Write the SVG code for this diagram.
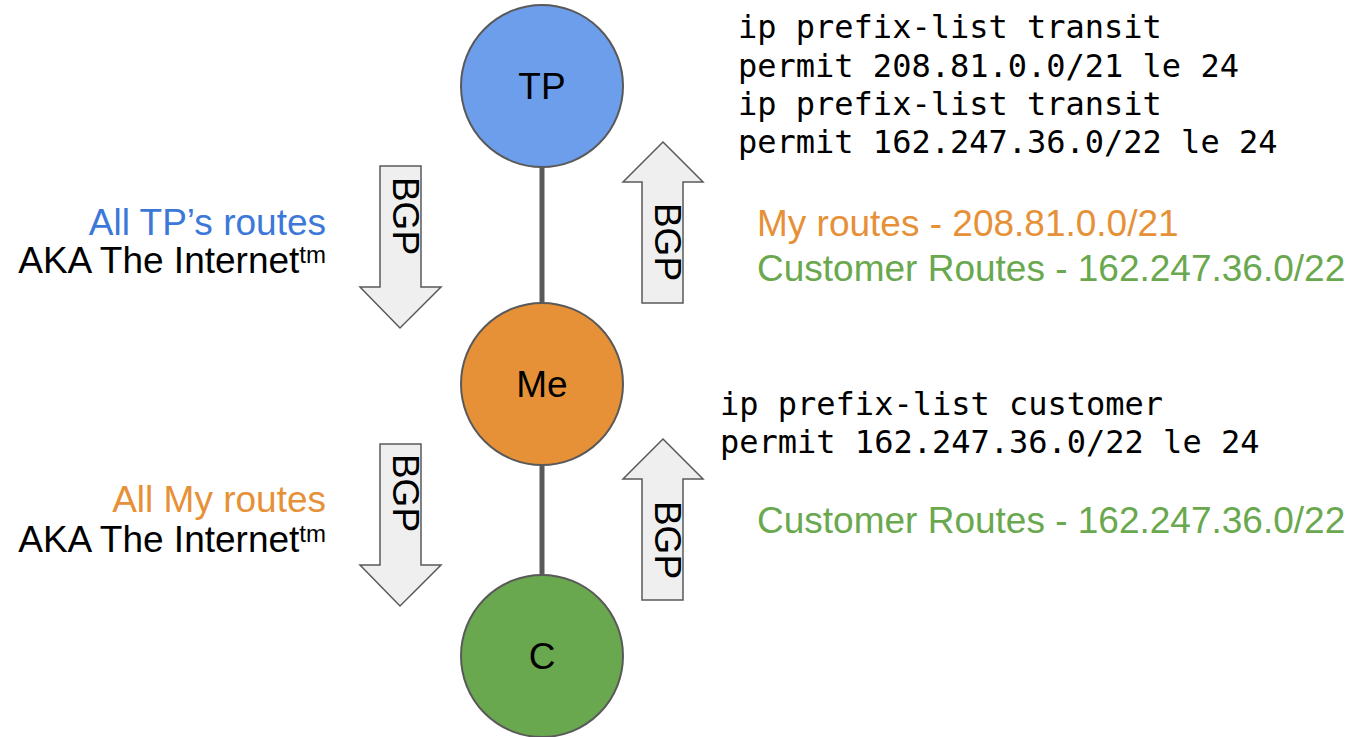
<svg xmlns="http://www.w3.org/2000/svg" width="1361" height="737" viewBox="0 0 1361 737">
<style>
.node{stroke:#595959;stroke-width:2}
.lbl{font-family:"Liberation Sans",Arial,sans-serif;font-size:37px;fill:#000}
.arrow{fill:#efefef;stroke:#595959;stroke-width:1.5;stroke-linejoin:miter}
.code{font-family:"DejaVu Sans Mono","Liberation Mono",monospace;font-size:32px;fill:#000}
.sup{font-size:24px}
.conn{stroke:#595959;stroke-width:5}
</style>
<rect width="1361" height="737" fill="#fff"/>
<g id="connectors">
<line class="conn" x1="542" y1="166" x2="542" y2="304"/>
<line class="conn" x1="542" y1="464" x2="542" y2="576"/>
</g>
<g id="node-tp">
<circle class="node" cx="542" cy="86" r="81" fill="#6d9eeb"/>
<text class="lbl" x="542" y="99" text-anchor="middle">TP</text>
</g>
<g id="node-me">
<circle class="node" cx="542" cy="384" r="81" fill="#e69138"/>
<text class="lbl" x="542" y="397" text-anchor="middle">Me</text>
</g>
<g id="node-c">
<circle class="node" cx="542" cy="656" r="81" fill="#6aa84f"/>
<text class="lbl" x="542" y="669" text-anchor="middle">C</text>
</g>
<g id="arrow-down-1">
<polygon class="arrow" points="380,166 421,166 421,287 441,287 400,328 360,287 380,287"/>
<text class="lbl" transform="translate(393,216) rotate(90)" text-anchor="middle">BGP</text>
</g>
<g id="arrow-up-1">
<polygon class="arrow" points="663,142 703,182 683,182 683,303 642,303 642,182 623,182"/>
<text class="lbl" transform="translate(655,242) rotate(90)" text-anchor="middle">BGP</text>
</g>
<g id="arrow-down-2">
<polygon class="arrow" points="380,444 421,444 421,565 441,565 400,606 360,565 380,565"/>
<text class="lbl" transform="translate(393,493) rotate(90)" text-anchor="middle">BGP</text>
</g>
<g id="arrow-up-2">
<polygon class="arrow" points="663,439 703,479 683,479 683,600 642,600 642,479 623,479"/>
<text class="lbl" transform="translate(655,540) rotate(90)" text-anchor="middle">BGP</text>
</g>
<g id="label-left-1">
<text class="lbl" x="326" y="235" text-anchor="end" style="fill:#3c78d8">All TP’s routes</text>
<text class="lbl" x="326" y="273" text-anchor="end">AKA The Internet<tspan class="sup" dy="-10">tm</tspan></text>
</g>
<g id="label-left-2">
<text class="lbl" x="326" y="512" text-anchor="end" style="fill:#e69138">All My routes</text>
<text class="lbl" x="326" y="552" text-anchor="end">AKA The Internet<tspan class="sup" dy="-10">tm</tspan></text>
</g>
<g id="code-transit">
<text class="code" x="738" y="38">ip prefix-list transit</text>
<text class="code" x="738" y="77">permit 208.81.0.0/21 le 24</text>
<text class="code" x="738" y="115">ip prefix-list transit</text>
<text class="code" x="738" y="153">permit 162.247.36.0/22 le 24</text>
</g>
<g id="label-right-1">
<text class="lbl" x="757" y="236" style="fill:#e69138">My routes - 208.81.0.0/21</text>
<text class="lbl" x="757" y="281" style="fill:#6aa84f">Customer Routes - 162.247.36.0/22</text>
</g>
<g id="code-customer">
<text class="code" x="720" y="415">ip prefix-list customer</text>
<text class="code" x="720" y="453">permit 162.247.36.0/22 le 24</text>
</g>
<g id="label-right-2">
<text class="lbl" x="757" y="533" style="fill:#6aa84f">Customer Routes - 162.247.36.0/22</text>
</g>
</svg>
